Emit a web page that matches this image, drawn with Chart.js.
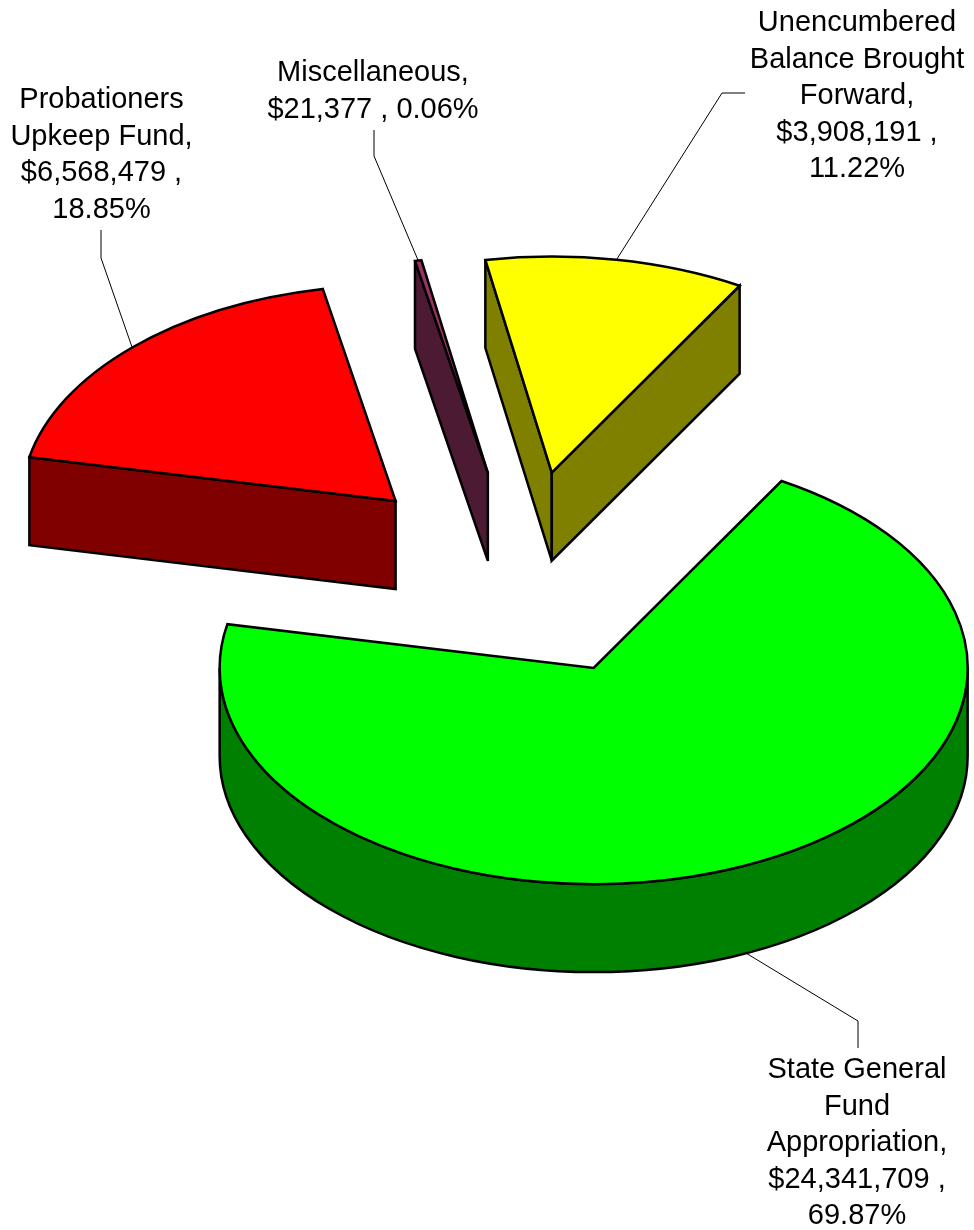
<!DOCTYPE html>
<html>
<head>
<meta charset="utf-8">
<style>
html,body{margin:0;padding:0;background:#fff;}
#wrap{width:974px;height:1230px;position:relative;}
canvas{display:block;}
</style>
<script src="https://cdn.jsdelivr.net/npm/chart.js@4"></script>
</head>
<body>
<div id="wrap"><canvas id="c" width="974" height="1230"></canvas></div>
<script>
const categories = ['State General Fund Appropriation','Probationers Upkeep Fund','Miscellaneous','Unencumbered Balance Brought Forward'];
const values = [24341709, 6568479, 21377, 3908191];
const percents = ['69.87%','18.85%','0.06%','11.22%'];
const topColors = ['#00FF00','#FF0000','#993366','#FFFF00'];
const sideColors = ['#008000','#800000','#4D1A33','#808000'];
const labelLines = [
  ['State General','Fund','Appropriation,','$24,341,709 ,','69.87%'],
  ['Probationers','Upkeep Fund,','$6,568,479 ,','18.85%'],
  ['Miscellaneous,','$21,377 , 0.06%'],
  ['Unencumbered','Balance Brought','Forward,','$3,908,191 ,','11.22%']
];
const labelAnchors = [[857,1078],[101.5,108],[373,81],[857,31]];
const leaderElbows = [
  [[858,1021],[858,1048]],
  [[101,258],[101,230]],
  [[374,156],[374,130]],
  [[722,93],[745,93]]
];
const ROTATION = 30.15, RADIUS = 374, EXPLODE = 178, SQUASH = 0.578, DEPTH = 88;
const CENTER_X = 521, CENTER_Y = 574;
const MIN_SLICE_DEG = 1;   // a sliver is widened to stay visible, taking the room from the slice before it
const PEN = 2.5, FONT = '29px "Liberation Sans", Arial, sans-serif', LINE_H = 36.5;

const sy = y => CENTER_Y + (y - CENTER_Y) * SQUASH;
function rim(a, t){ return [a.x + a.outerRadius*Math.cos(t), sy(a.y + a.outerRadius*Math.sin(t))]; }

const pie3d = {
  id:'pie3d',
  afterDatasetsUpdate(chart){
    const arcs=chart.getDatasetMeta(0).data, min=MIN_SLICE_DEG*Math.PI/180;
    arcs.forEach((a,i)=>{
      const lack=min-(a.endAngle-a.startAngle);
      if(lack>0 && i>0){
        a.startAngle-=lack; a.circumference+=lack;
        arcs[i-1].endAngle-=lack; arcs[i-1].circumference-=lack;
      }
    });
    arcs.forEach(a=>{
      const mid=(a.startAngle+a.endAngle)/2;
      a.x += EXPLODE*Math.cos(mid);
      a.y += EXPLODE*Math.sin(mid);
    });
  },
  beforeDatasetsDraw(chart){
    const ctx=chart.ctx, arcs=chart.getDatasetMeta(0).data;
    ctx.save();
    ctx.lineWidth=PEN; ctx.strokeStyle='#000'; ctx.lineJoin='miter'; ctx.miterLimit=4;
    arcs.forEach((a,i)=>{
      ctx.fillStyle=sideColors[i];
      const ax=a.x, ay=sy(a.y), rx=a.outerRadius, ry=rx*SQUASH;
      // outer wall, only the part that faces the viewer
      for(let k=-1;k<=1;k++){
        const lo=Math.max(a.startAngle,2*Math.PI*k), hi=Math.min(a.endAngle,2*Math.PI*k+Math.PI);
        if(hi>lo){
          ctx.beginPath();
          ctx.ellipse(ax,ay,rx,ry,0,lo,hi);
          ctx.ellipse(ax,ay+DEPTH,rx,ry,0,hi,lo,true);
          ctx.closePath(); ctx.fill(); ctx.stroke();
        }
      }
      // radial walls, only those that face the viewer
      [[a.startAngle,-Math.PI/2],[a.endAngle,Math.PI/2]].forEach(([t,n])=>{
        if(Math.sin(t+n)<=0) return;
        const p=rim(a,t);
        ctx.beginPath();
        ctx.moveTo(ax,ay); ctx.lineTo(p[0],p[1]); ctx.lineTo(p[0],p[1]+DEPTH); ctx.lineTo(ax,ay+DEPTH);
        ctx.closePath(); ctx.fill(); ctx.stroke();
      });
    });
    ctx.restore();
    // the library paints the top faces under the squash
    ctx.save();
    ctx.translate(0,CENTER_Y); ctx.scale(1,SQUASH); ctx.translate(0,-CENTER_Y);
  },
  afterDatasetsDraw(chart){
    const ctx=chart.ctx, arcs=chart.getDatasetMeta(0).data;
    ctx.restore();
    ctx.save();
    ctx.lineWidth=PEN; ctx.strokeStyle='#000'; ctx.lineJoin='miter'; ctx.miterLimit=4;
    arcs.forEach(a=>{
      ctx.beginPath();
      ctx.ellipse(a.x,sy(a.y),a.outerRadius,a.outerRadius*SQUASH,0,a.startAngle,a.endAngle);
      ctx.lineTo(a.x,sy(a.y));
      ctx.closePath(); ctx.stroke();
    });
    // leaders
    ctx.lineWidth=1; ctx.strokeStyle='#000';
    arcs.forEach((a,i)=>{
      const mid=(a.startAngle+a.endAngle)/2, p=rim(a,mid);
      if(Math.sin(mid)>0) p[1]+=DEPTH;
      ctx.beginPath(); ctx.moveTo(p[0],p[1]);
      leaderElbows[i].forEach(q=>ctx.lineTo(q[0],q[1]));
      ctx.stroke();
    });
    // labels
    ctx.fillStyle='#000'; ctx.font=FONT; ctx.textAlign='center'; ctx.textBaseline='alphabetic';
    labelLines.forEach((lines,i)=>{
      lines.forEach((s,j)=>ctx.fillText(s,labelAnchors[i][0],labelAnchors[i][1]+j*LINE_H));
    });
    ctx.restore();
  }
};

new Chart(document.getElementById('c'),{
  type:'pie',
  data:{labels:categories,datasets:[{data:values,backgroundColor:topColors,borderWidth:0,clip:false}]},
  options:{
    responsive:false,animation:false,rotation:ROTATION,radius:RADIUS,
    layout:{padding:{left:2*CENTER_X-974,right:0,top:0,bottom:1230-2*CENTER_Y}},
    plugins:{legend:{display:false},tooltip:{enabled:false},title:{display:false}}
  },
  plugins:[pie3d]
});
</script>
</body>
</html>
